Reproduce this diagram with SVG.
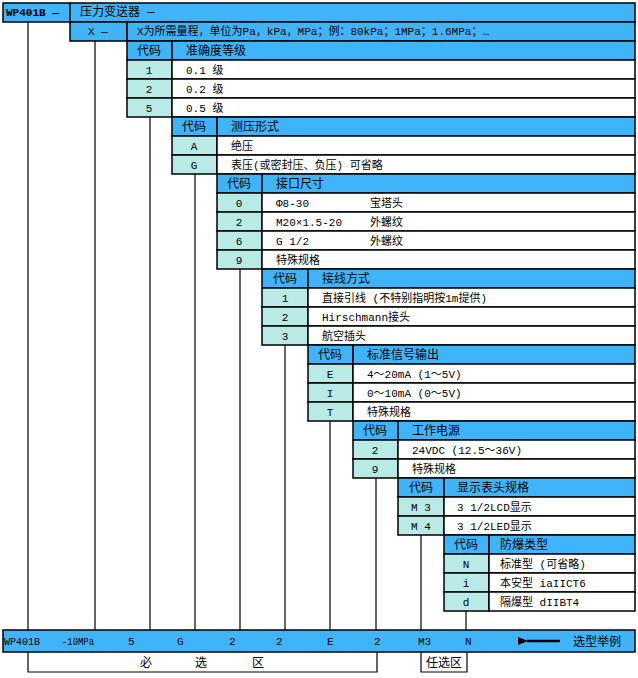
<svg xmlns="http://www.w3.org/2000/svg" width="638" height="678" viewBox="0 0 638 678">
<style>
.b{fill:#40b4f8;stroke:#000;stroke-width:1.5}
.c{fill:#b8ebe6;stroke:#000;stroke-width:1.5}
.w{fill:#fff;stroke:#000;stroke-width:1.5}
.l{stroke:#000;stroke-width:1.2;fill:none}
text{font-family:"Liberation Mono","Noto Sans CJK SC",monospace;font-size:11px;fill:#000}
.m{text-anchor:middle}
.h{font-size:12px}
</style>
<defs><marker id="ar" markerWidth="10" markerHeight="8" refX="1" refY="4" orient="auto" markerUnits="userSpaceOnUse"><path d="M10,0 L0,4 L10,8z" fill="#000"/></marker></defs>
<rect x="0" y="0" width="638" height="678" fill="#fff"/>
<g id="n0"><rect class="b" x="3" y="3" width="67" height="19"/><text x="6" y="16" font-weight="bold">WP401B —</text>
<rect class="b" x="70" y="3" width="565" height="19"/><text x="80" y="16" class="h">压力变送器 —</text></g>
<g id="n1"><rect class="b" x="70" y="22" width="57" height="19"/><text x="98" y="35" class="m">X —</text>
<rect class="b" x="127" y="22" width="508" height="19"/><text x="137" y="35">X为所需量程，单位为Pa，kPa，MPa；例：80kPa；1MPa；1.6MPa；…</text></g>
<g id="n2"><rect class="b" x="127" y="41" width="45" height="19"/><text x="149" y="55" class="m h">代码</text><rect class="b" x="172" y="41" width="463" height="19"/><text x="186" y="55" class="h">准确度等级</text>
<rect class="c" x="127" y="60" width="45" height="19"/><text x="149" y="74" class="m">1</text><rect class="w" x="172" y="60" width="463" height="19"/><text x="186" y="74">0.1 级</text>
<rect class="c" x="127" y="79" width="45" height="19"/><text x="149" y="93" class="m">2</text><rect class="w" x="172" y="79" width="463" height="19"/><text x="186" y="93">0.2 级</text>
<rect class="c" x="127" y="98" width="45" height="19"/><text x="149" y="112" class="m">5</text><rect class="w" x="172" y="98" width="463" height="19"/><text x="186" y="112">0.5 级</text></g>
<g id="n3"><rect class="b" x="172" y="117" width="45" height="19"/><text x="194" y="131" class="m h">代码</text><rect class="b" x="217" y="117" width="418" height="19"/><text x="231" y="131" class="h">测压形式</text>
<rect class="c" x="172" y="136" width="45" height="19"/><text x="194" y="150" class="m">A</text><rect class="w" x="217" y="136" width="418" height="19"/><text x="231" y="150">绝压</text>
<rect class="c" x="172" y="155" width="45" height="19"/><text x="194" y="169" class="m">G</text><rect class="w" x="217" y="155" width="418" height="19"/><text x="231" y="169">表压(或密封压、负压)   可省略</text></g>
<g id="n4"><rect class="b" x="217" y="174" width="45" height="19"/><text x="239" y="188" class="m h">代码</text><rect class="b" x="262" y="174" width="373" height="19"/><text x="276" y="188" class="h">接口尺寸</text>
<rect class="c" x="217" y="193" width="45" height="19"/><text x="239" y="207" class="m">0</text><rect class="w" x="262" y="193" width="373" height="19"/><text x="276" y="207">Φ8-30</text><text x="370" y="207">宝塔头</text>
<rect class="c" x="217" y="212" width="45" height="19"/><text x="239" y="226" class="m">2</text><rect class="w" x="262" y="212" width="373" height="19"/><text x="276" y="226">M20×1.5-20</text><text x="370" y="226">外螺纹</text>
<rect class="c" x="217" y="231" width="45" height="19"/><text x="239" y="245" class="m">6</text><rect class="w" x="262" y="231" width="373" height="19"/><text x="276" y="245">G 1/2</text><text x="370" y="245">外螺纹</text>
<rect class="c" x="217" y="250" width="45" height="19"/><text x="239" y="264" class="m">9</text><rect class="w" x="262" y="250" width="373" height="19"/><text x="276" y="264">特殊规格</text></g>
<g id="n5"><rect class="b" x="262" y="269" width="46" height="19"/><text x="285" y="283" class="m h">代码</text><rect class="b" x="308" y="269" width="327" height="19"/><text x="322" y="283" class="h">接线方式</text>
<rect class="c" x="262" y="288" width="46" height="19"/><text x="285" y="302" class="m">1</text><rect class="w" x="308" y="288" width="327" height="19"/><text x="322" y="302">直接引线  (不特别指明按1m提供)</text>
<rect class="c" x="262" y="307" width="46" height="19"/><text x="285" y="321" class="m">2</text><rect class="w" x="308" y="307" width="327" height="19"/><text x="322" y="321">Hirschmann接头</text>
<rect class="c" x="262" y="326" width="46" height="19"/><text x="285" y="340" class="m">3</text><rect class="w" x="308" y="326" width="327" height="19"/><text x="322" y="340">航空插头</text></g>
<g id="n6"><rect class="b" x="308" y="345" width="45" height="19"/><text x="330" y="359" class="m h">代码</text><rect class="b" x="353" y="345" width="282" height="19"/><text x="367" y="359" class="h">标准信号输出</text>
<rect class="c" x="308" y="364" width="45" height="19"/><text x="330" y="378" class="m">E</text><rect class="w" x="353" y="364" width="282" height="19"/><text x="367" y="378">4～20mA  (1～5V)</text>
<rect class="c" x="308" y="383" width="45" height="19"/><text x="330" y="397" class="m">I</text><rect class="w" x="353" y="383" width="282" height="19"/><text x="367" y="397">0～10mA  (0～5V)</text>
<rect class="c" x="308" y="402" width="45" height="19"/><text x="330" y="416" class="m">T</text><rect class="w" x="353" y="402" width="282" height="19"/><text x="367" y="416">特殊规格</text></g>
<g id="n7"><rect class="b" x="353" y="421" width="45" height="19"/><text x="375" y="435" class="m h">代码</text><rect class="b" x="398" y="421" width="237" height="19"/><text x="412" y="435" class="h">工作电源</text>
<rect class="c" x="353" y="440" width="45" height="19"/><text x="375" y="454" class="m">2</text><rect class="w" x="398" y="440" width="237" height="19"/><text x="412" y="454">24VDC  (12.5～36V)</text>
<rect class="c" x="353" y="459" width="45" height="19"/><text x="375" y="473" class="m">9</text><rect class="w" x="398" y="459" width="237" height="19"/><text x="412" y="473">特殊规格</text></g>
<g id="n8"><rect class="b" x="398" y="478" width="46" height="19"/><text x="421" y="492" class="m h">代码</text><rect class="b" x="444" y="478" width="191" height="19"/><text x="457" y="492" class="h">显示表头规格</text>
<rect class="c" x="398" y="497" width="46" height="19"/><text x="421" y="511" class="m">M 3</text><rect class="w" x="444" y="497" width="191" height="19"/><text x="457" y="511">3 1/2LCD显示</text>
<rect class="c" x="398" y="516" width="46" height="19"/><text x="421" y="530" class="m">M 4</text><rect class="w" x="444" y="516" width="191" height="19"/><text x="457" y="530">3 1/2LED显示</text></g>
<g id="n9"><rect class="b" x="444" y="535" width="45" height="19"/><text x="466" y="549" class="m h">代码</text><rect class="b" x="489" y="535" width="146" height="19"/><text x="500" y="549" class="h">防爆类型</text>
<rect class="c" x="444" y="554" width="45" height="19"/><text x="466" y="568" class="m">N</text><rect class="w" x="489" y="554" width="146" height="19"/><text x="500" y="568">标准型 (可省略)</text>
<rect class="c" x="444" y="573" width="45" height="19"/><text x="466" y="587" class="m">i</text><rect class="w" x="489" y="573" width="146" height="19"/><text x="500" y="587">本安型  iaIICT6</text>
<rect class="c" x="444" y="592" width="45" height="19"/><text x="466" y="606" class="m">d</text><rect class="w" x="489" y="592" width="146" height="19"/><text x="500" y="606">隔爆型  dIIBT4</text></g>
<g id="bar"><rect class="b" x="3" y="630" width="632" height="22"/>
<text x="4" y="645" textLength="36" lengthAdjust="spacingAndGlyphs">WP401B</text><text x="62" y="645" textLength="32" lengthAdjust="spacingAndGlyphs">-10MPa</text><text x="128" y="645">5</text><text x="177" y="645">G</text><text x="229" y="645">2</text><text x="276" y="645">2</text><text x="327" y="645">E</text><text x="374" y="645">2</text><text x="418" y="645">M3</text><text x="465" y="645">N</text><text x="573" y="646" class="h">选型举例</text></g>
<g id="connectors">
<path class="l" d="M28,22V630M95,41V630M150,117V630M195,174V630M240,269V630M285,345V630M330,421V630M376,478V630M421,535V630M466,611V630"/>
<line x1="560" y1="641" x2="527" y2="641" stroke="#000" stroke-width="2.5" marker-end="url(#ar)"/>
</g>
<g id="zones"><path class="l" d="M28,652V672H377V652M421,652V672H467V652"/>
<text x="140" y="667" class="h">必</text><text x="195" y="667" class="h">选</text><text x="252" y="667" class="h">区</text><text x="426" y="667" class="h">任选区</text></g>
</svg>
